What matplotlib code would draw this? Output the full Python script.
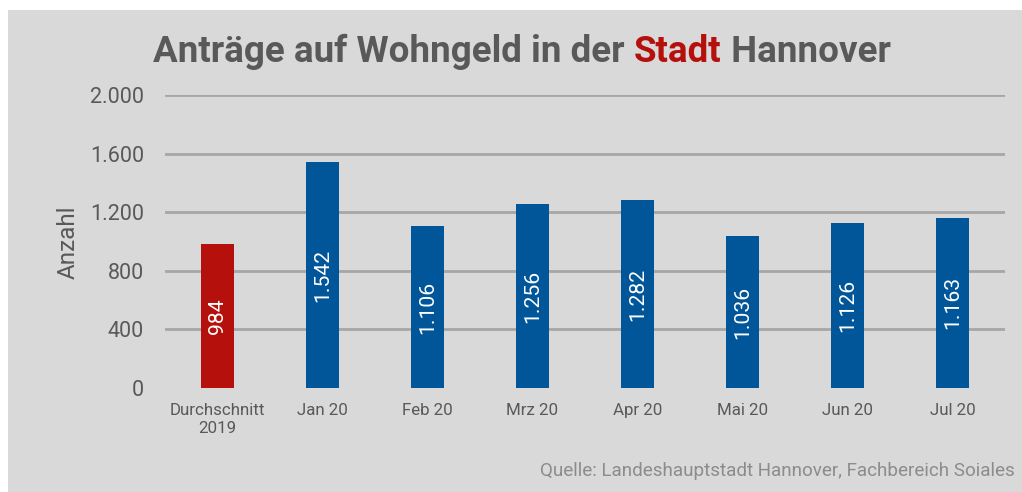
import matplotlib
matplotlib.use("Agg")
import matplotlib.pyplot as plt
from matplotlib.patches import Rectangle

categories = ["Durchschnitt\n2019", "Jan 20", "Feb 20", "Mrz 20", "Apr 20", "Mai 20", "Jun 20", "Jul 20"]
values = [984, 1542, 1106, 1256, 1282, 1036, 1126, 1163]
value_labels = ["984", "1.542", "1.106", "1.256", "1.282", "1.036", "1.126", "1.163"]
y_ticks = [0, 400, 800, 1200, 1600, 2000]
y_tick_labels = ["0", "400", "800", "1.200", "1.600", "2.000"]

RED = "#b5100c"
BLUE = "#005699"
TXT = "#595959"
BG = "#d9d9d9"
FONT = "Roboto"

fig = plt.figure(figsize=(10.22, 4.92), dpi=100)
fig.patch.set_facecolor("white")
fig.patches.append(Rectangle((8 / 1022, 0), 1 - 8 / 1022, 1 - 10 / 492,
                             transform=fig.transFigure, facecolor=BG,
                             edgecolor="none", zorder=-10))

ax = fig.add_axes([165 / 1022, 1 - 388 / 492, 840 / 1022, 293 / 492])
ax.set_facecolor("none")
x = list(range(len(categories)))
colors = [RED] + [BLUE] * (len(categories) - 1)
ax.bar(x, values, width=0.315, color=colors, zorder=3)
for xi, v, lab in zip(x, values, value_labels):
    ax.text(xi, v / 2, lab, rotation=90, ha="center", va="center",
            color="white", fontsize=15.2, family=FONT, zorder=4)

ax.set_xlim(-0.5, len(categories) - 0.5)
ax.set_ylim(0, 2000)
ax.set_yticks(y_ticks)
ax.set_yticklabels(y_tick_labels, fontsize=15.5, color=TXT, family=FONT)
ax.set_xticks(x)
ax.set_xticklabels(categories, fontsize=12.2, color=TXT, family=FONT,
                   linespacing=1.2)
for t in y_ticks[1:]:
    ax.axhline(t, color="#a6a6a6", linewidth=2, zorder=1)
ax.tick_params(axis="both", length=0)
ax.tick_params(axis="y", pad=15)
ax.tick_params(axis="x", pad=11)
for s in ax.spines.values():
    s.set_visible(False)

fig.text(68 / 1022, 1 - 242 / 492, "Anzahl", rotation=90, ha="center",
         va="center", fontsize=17.5, color=TXT, family=FONT)

# title in three pieces
parts = [("Anträge auf Wohngeld in der ", TXT), ("Stadt", RED), (" Hannover", TXT)]
fig.canvas.draw()
r = fig.canvas.get_renderer()
texts = []
for s, c in parts:
    t = fig.text(0, 1 - 52 / 492, s, color=c, fontsize=26.5, fontweight="bold",
                 family=FONT, va="center", ha="left")
    texts.append(t)
widths = [t.get_window_extent(r).width for t in texts]
total = sum(widths)
xpos = 522 - total / 2
for t, w in zip(texts, widths):
    t.set_x(xpos / 1022)
    xpos += w

# source line, sized to span the same width as in the original
src = fig.text(1015 / 1022, 1 - 471 / 492,
               "Quelle: Landeshauptstadt Hannover, Fachbereich Soiales",
               ha="right", va="center", fontsize=14, color="#8c8c8c", family=FONT)
w = src.get_window_extent(r).width
src.set_fontsize(14 * 481 / w)

fig.savefig("out.png", dpi=100, facecolor=fig.get_facecolor())
